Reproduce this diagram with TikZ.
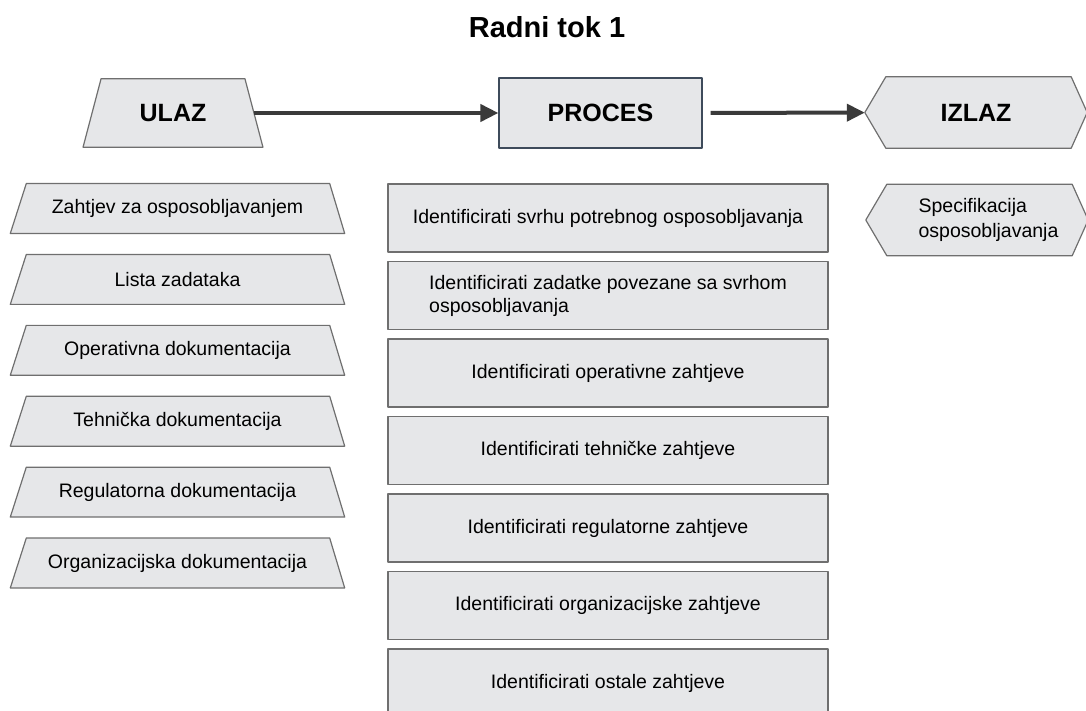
\documentclass[tikz,border=0pt]{standalone}
\usepackage{fontspec}
\setmainfont{Liberation Sans}
\usetikzlibrary{positioning,arrows.meta}
\pgfdeclarelayer{bg}
\pgfsetlayers{bg,main}
\definecolor{boxgray}{HTML}{E6E7E9}
\definecolor{linegray}{HTML}{6F6F6F}
\definecolor{procblue}{HTML}{3E4B5B}
\definecolor{arrowgray}{HTML}{3A3A3A}

\begin{document}
\begin{tikzpicture}[x=1pt,y=-1pt,
   every node/.style={font=\fontsize{19.5}{23}\selectfont},
   headtext/.style={font=\fontsize{25}{30}\selectfont\bfseries},
   inbox/.style={minimum width=334pt,minimum height=49.5pt,inner sep=0pt},
   outbox/.style={minimum width=222pt,minimum height=71pt,inner sep=0pt},
   outline/.style={draw=linegray,fill=boxgray,line width=1.2pt,line join=round},
   stepbox/.style={outline,minimum width=440pt,minimum height=68pt,inner sep=0pt},
   flow/.style={draw=arrowgray,line width=4pt,-{Triangle[length=18pt,width=17pt]}}]
\useasboundingbox (0,0) rectangle (1086,711);

\node[font=\fontsize{29}{34}\selectfont\bfseries,anchor=base] (naslov) at (547,38) {Radni tok 1};

\node[headtext,minimum width=161.5pt,minimum height=68pt,inner sep=0pt] (ulaz) at (173,113) {ULAZ};
\node[stepbox,headtext,draw=procblue,minimum width=203pt,minimum height=70pt] (proces) at (600.5,113) {PROCES};
\node[outbox,headtext] (izlaz) at (976,112.5) {IZLAZ};

\draw[flow] (ulaz) -- (proces);
\draw[flow,shorten <=8pt] (proces) -- (izlaz);

\node[inbox] (zahtjev) at (177.5,208.5) {Zahtjev za osposobljavanjem};
\node[inbox,below=21pt of zahtjev] (lista) {Lista zadataka};
\node[inbox,below=21pt of lista] (operativna) {Operativna dokumentacija};
\node[inbox,below=21pt of operativna] (tehnicka) {Tehnička dokumentacija};
\node[inbox,below=21pt of tehnicka] (regulatorna) {Regulatorna dokumentacija};
\node[inbox,below=21pt of regulatorna] (organizacijska) {Organizacijska dokumentacija};

\node[stepbox] (svrha) at (608,218) {Identificirati svrhu potrebnog osposobljavanja};
\node[stepbox,below=8.3pt of svrha,align=left] (zadaci) {Identificirati zadatke povezane sa svrhom\\osposobljavanja};
\node[stepbox,below=8.3pt of zadaci] (opzahtjevi) {Identificirati operativne zahtjeve};
\node[stepbox,below=8.3pt of opzahtjevi] (tehzahtjevi) {Identificirati tehničke zahtjeve};
\node[stepbox,below=8.3pt of tehzahtjevi] (regzahtjevi) {Identificirati regulatorne zahtjeve};
\node[stepbox,below=8.3pt of regzahtjevi] (orgzahtjevi) {Identificirati organizacijske zahtjeve};
\node[stepbox,below=8.3pt of orgzahtjevi] (ostalo) {Identificirati ostale zahtjeve};

\node[outbox,font=\fontsize{19.5}{25}\selectfont] (specifikacija) at (977,220)
   {\begin{tabular}{@{\hspace{23pt}}l@{}}Specifikacija\\osposobljavanja\end{tabular}};

\begin{pgfonlayer}{bg}
\draw[outline] ([xshift=9pt]ulaz.north west) -- ([xshift=-9pt]ulaz.north east)
   -- ([xshift=9pt]ulaz.south east) -- ([xshift=-9pt]ulaz.south west) -- cycle;
\foreach \n in {zahtjev,lista,operativna,tehnicka,regulatorna,organizacijska}
   \draw[outline] ([xshift=16pt]\n.north west) -- ([xshift=-15pt]\n.north east)
      -- (\n.south east) -- (\n.south west) -- cycle;
\foreach \n in {izlaz,specifikacija}
   \draw[outline] (\n.west) -- ([xshift=21pt]\n.north west) -- ([xshift=-16pt]\n.north east)
      -- (\n.east) -- ([xshift=-16pt]\n.south east) -- ([xshift=21pt]\n.south west) -- cycle;
\end{pgfonlayer}
\end{tikzpicture}
\end{document}
